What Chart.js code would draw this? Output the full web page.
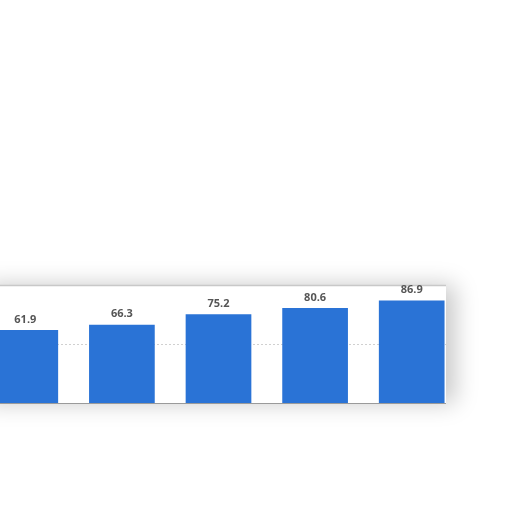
<!DOCTYPE html>
<html>
<head>
<meta charset="utf-8">
<script src="https://cdn.jsdelivr.net/npm/chart.js@4"></script>
<style>
  html, body { margin: 0; padding: 0; background: #fff; overflow: hidden; }
  #wrap { position: absolute; left: -23px; top: 0; width: 535px; height: 512px; }
</style>
</head>
<body>
<div id="wrap"><canvas id="myChart" width="535" height="512"></canvas></div>
<script>
  const categories = ['1', '2', '3', '4', '5'];
  const values = [61.9, 66.3, 75.2, 80.6, 86.9];
  const yTicks = [0, 50, 100];

  const data = {
    labels: categories,
    datasets: [{
      data: values,
      backgroundColor: '#2a73d6',
      borderWidth: 0,
      barPercentage: 0.68,
      categoryPercentage: 1
    }]
  };

  // white panel ending at the last bar, soft shadow + grid lines
  const panel = {
    id: 'panel',
    beforeDatasetsDraw(chart) {
      const {ctx, chartArea: {left, top, bottom}, scales: {y}} = chart;
      const bars = chart.getDatasetMeta(0).data;
      const last = bars[bars.length - 1];
      const right = Math.round(last.x + last.width / 2) + 1;

      ctx.save();
      ctx.shadowColor = 'rgba(0,0,0,0.22)';
      ctx.shadowBlur = 22;
      ctx.shadowOffsetX = 9;
      ctx.fillStyle = '#fff';
      ctx.fillRect(left, top, right - left, bottom - top);
      ctx.restore();

      yTicks.forEach((v) => {
        const py = Math.round(y.getPixelForValue(v)) + 0.5;
        ctx.save();
        ctx.beginPath();
        if (v === 50) {
          ctx.setLineDash([2, 2]);
          ctx.strokeStyle = '#d0d0d0';
        } else if (v === 0) {
          ctx.strokeStyle = '#9a9a9a';
        } else {
          ctx.strokeStyle = '#c8c8c8';
          ctx.lineWidth = 1.5;
        }
        ctx.moveTo(left, py);
        ctx.lineTo(right, py);
        ctx.stroke();
        ctx.restore();
      });
    }
  };

  // value labels above bars
  const barLabels = {
    id: 'barLabels',
    afterDatasetsDraw(chart) {
      const {ctx} = chart;
      ctx.save();
      ctx.font = 'bold 11px "Open Sans", sans-serif';
      ctx.fillStyle = '#555';
      ctx.textAlign = 'center';
      ctx.textBaseline = 'bottom';
      chart.getDatasetMeta(0).data.forEach((bar, i) => {
        ctx.fillText(values[i].toFixed(1), bar.x, bar.y - 5);
      });
      ctx.restore();
    }
  };

  const config = {
    type: 'bar',
    data,
    options: {
      responsive: false,
      animation: false,
      layout: { padding: { top: 285, bottom: 109, left: 0, right: 52 } },
      plugins: { legend: { display: false }, tooltip: { enabled: false } },
      scales: {
        x: { display: false },
        y: { display: false, min: 0, max: 100 }
      }
    },
    plugins: [panel, barLabels]
  };

  const myChart = new Chart(document.getElementById('myChart'), config);
</script>
</body>
</html>
